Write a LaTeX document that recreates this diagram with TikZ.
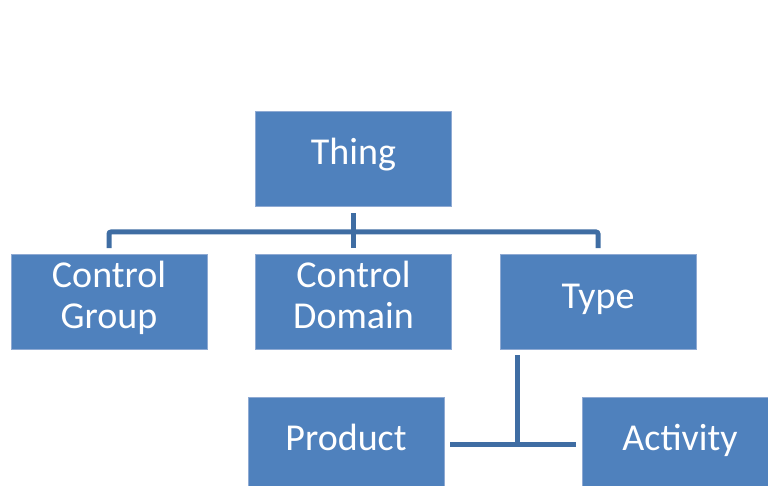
\documentclass[tikz,border=0pt]{standalone}
\usepackage{fontspec}
\setmainfont{Carlito}
\definecolor{boxfill}{HTML}{4F81BD}
\definecolor{boxedge}{HTML}{8FAAD3}
\definecolor{linkblue}{HTML}{3F6DA3}
% invisible rule that gives every label line the same height and depth
\newcommand\boxstrut{\rule[-14.5bp]{0pt}{41bp}}
\begin{document}
\begin{tikzpicture}[x=1bp,y=-1bp,
  box/.style={rectangle, fill=boxfill, draw=boxedge, line width=0.8bp,
    minimum width=196bp, minimum height=95bp, inner sep=0pt,
    align=center, text=white, font=\fontsize{38bp}{41bp}\selectfont,
    execute at begin node={\boxstrut}, execute at end node={\boxstrut}},
  link/.style={draw=linkblue, line width=5bp}]
\useasboundingbox (0,0) rectangle (768,486);
\clip (0,0) rectangle (768,486);

% hierarchy boxes
\node[box] (thing)    at (353.5,158.5) {Thing};
\node[box] (group)    at (109,302)     {Control\\\boxstrut Group};
\node[box] (domain)   at (353.5,302)   {Control\\\boxstrut Domain};
\node[box] (type)     at (598,302)     {Type};
\node[box] (product)  at (346,444.5)   {Product};
\node[box] (activity) at (680,444.5)   {Activity};

% bus under Thing
\coordinate (bus) at (353.5,232);
\draw[link] ([yshift=-7bp]thing.south) -- ([yshift=6bp]domain.north);
\draw[link, rounded corners=2bp] ([yshift=6bp]group.north) |- (bus) -| ([yshift=6bp]type.north);

% Type branches into Product and Activity
\coordinate (stem) at (517,355);
\coordinate (join) at (517,444.5);
\draw[link] (stem) -- (join);
\draw[link] ([xshift=6bp]product.east) -- ([xshift=-6bp]activity.west);
\end{tikzpicture}
\end{document}
